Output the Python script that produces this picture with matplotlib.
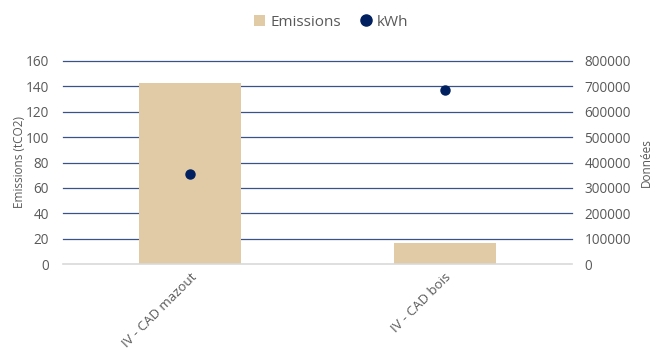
import matplotlib
matplotlib.use("Agg")
import matplotlib.pyplot as plt
from matplotlib.lines import Line2D
from matplotlib.patches import Patch

categories = ["IV - CAD mazout", "IV - CAD bois"]
emissions = [142.4, 16.8]
kwh = [353600, 685700]

plt.rcParams['font.family'] = ['Open Sans', 'DejaVu Sans']

fig = plt.figure(figsize=(6.61, 3.54), dpi=100)
ax = fig.add_axes([63/661, 1-264/354, (572-63)/661, (264-61)/354])
ax2 = ax.twinx()

bar_color = "#E1CBA6"
pt_color = "#002060"
grid_color = "#3A5287"
text_color = "#595959"

x = list(range(len(categories)))
ax.bar(x, emissions, width=0.4, color=bar_color, zorder=3)
ax.set_ylim(0, 160)
ax.set_yticks(range(0, 161, 20))
ax.set_xlim(-0.5, 1.5)
for v in range(20, 161, 20):
    ax.axhline(v, color=grid_color, lw=0.9, zorder=1, clip_on=False)
ax.axhline(0, color="#D9D9D9", lw=1.2, zorder=4, clip_on=False)

ax2.plot(x, kwh, 'o', color=pt_color, markersize=6.5, zorder=5)
ax2.set_ylim(0, 800000)
ax2.set_yticks(range(0, 800001, 100000))

for a in (ax, ax2):
    for s in a.spines.values():
        s.set_visible(False)
    a.tick_params(length=0, colors=text_color, labelsize=9.8)

ax.tick_params(axis='y', pad=10)
ax2.tick_params(axis='y', pad=9)
ax.set_xticks(x)
ax.set_xticklabels(categories, rotation=45, ha='right', va='top', rotation_mode='anchor', color=text_color, fontsize=9.5)
ax.tick_params(axis='x', pad=5)

ax.set_ylabel("Emissions (tCO2)", color=text_color, fontsize=8.5, labelpad=0)
ax2.set_ylabel("Données", color=text_color, fontsize=8.5, labelpad=6)

handles = [Patch(facecolor=bar_color, edgecolor='none'),
           Line2D([], [], marker='o', color=pt_color, linestyle='none', markersize=8)]
fig.legend(handles, ["Emissions", "kWh"], loc='center', bbox_to_anchor=(331/661, 1-22/354),
           ncol=2, frameon=False, fontsize=11, labelcolor=text_color,
           handlelength=0.7, handletextpad=0.35, columnspacing=1.3)

fig.savefig("out.png", dpi=100)
